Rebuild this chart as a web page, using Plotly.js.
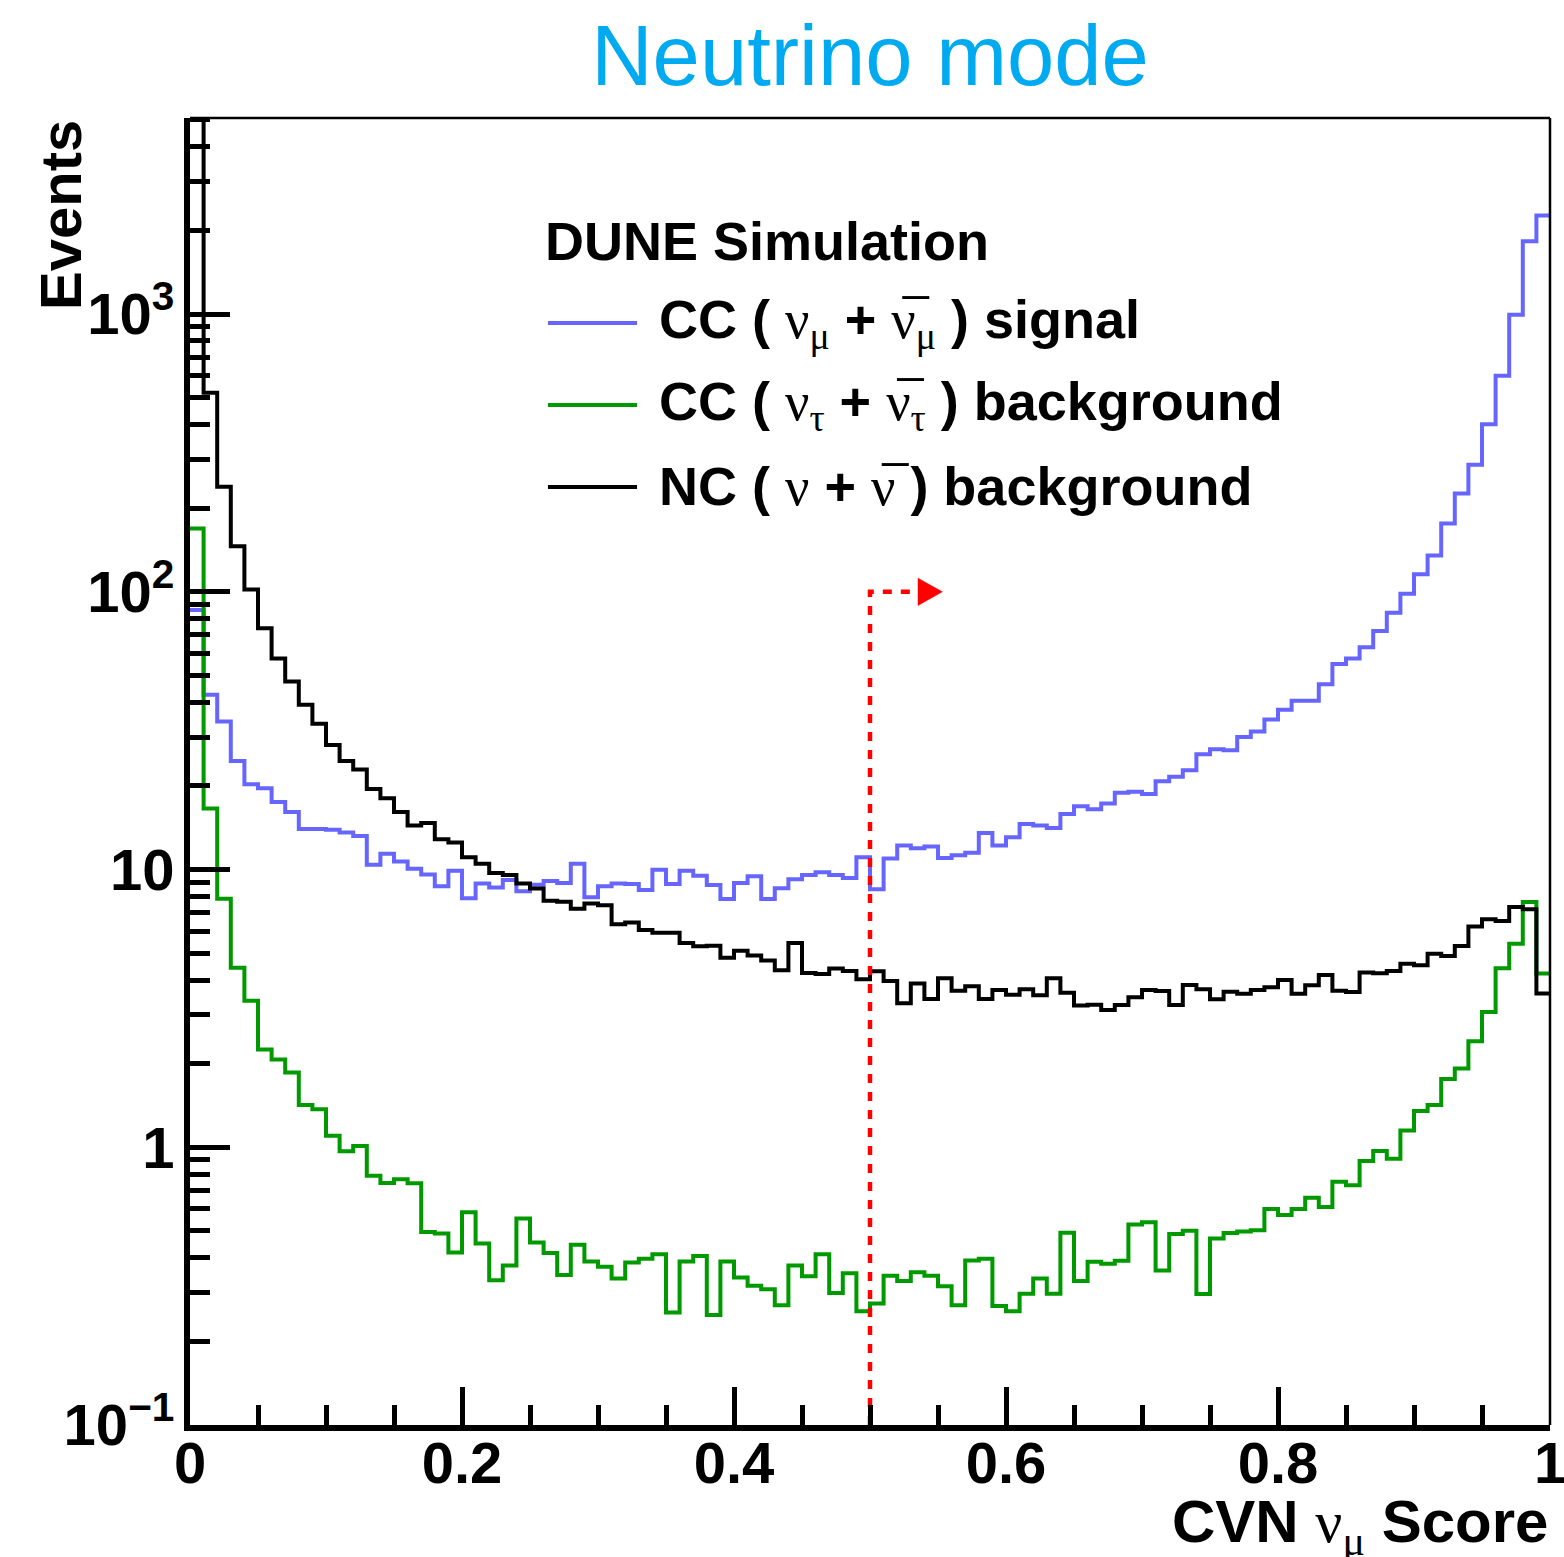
<!DOCTYPE html>
<html>
<head>
<meta charset="utf-8">
<script src="https://cdn.plot.ly/plotly-3.0.1.min.js"></script>
<style>
  html, body { margin: 0; padding: 0; background: #ffffff; }
  #chart { width: 1564px; height: 1557px; }
</style>
</head>
<body>
<div id="chart"></div>
<script>
// ---- Histogram binning (CVN numu score, 100 bins from 0 to 1) ----
const binLow = 0;
const binWidth = 0.01;
const nBins = 100;

// ---- Series values (events per bin) ----
const ccNumuSignal = [
  86, 42.6, 34.1, 24.6, 20.3, 19.6, 17.5, 16.1, 14.0, 14.0,
  13.9, 13.6, 13.2, 10.4, 11.4, 10.7, 10.07, 9.6, 8.7, 9.9,
  7.88, 8.9, 8.62, 9.17, 8.36, 8.82, 9.09, 8.95, 10.5, 7.95,
  8.7, 8.9, 8.87, 8.44, 9.99, 8.87, 9.9, 9.5, 8.8, 7.84,
  8.95, 9.45, 7.84, 8.57, 9.22, 9.56, 9.78, 9.56, 9.33, 11.08,
  8.5, 10.95, 12.2, 11.94, 12.1, 11.0, 11.25, 11.5, 13.55, 12.2,
  13.08, 14.6, 14.4, 14.1, 15.86, 16.9, 16.5, 17.3, 18.9, 19.05,
  18.7, 20.8, 21.6, 22.8, 26.0, 27.1, 26.9, 30.0, 31.4, 34.7,
  37.6, 40.5, 40.5, 46.5, 55, 57.5, 63.2, 72.2, 84.1, 98.4,
  115.7, 135, 176, 226, 287, 401, 600, 994, 1828, 2264
];
const ccNutauBkg = [
  169, 16.6, 7.85, 4.43, 3.37, 2.25, 2.07, 1.86, 1.42, 1.37,
  1.10, 0.967, 1.01, 0.79, 0.744, 0.767, 0.742, 0.495, 0.489, 0.418,
  0.584, 0.45, 0.332, 0.375, 0.554, 0.454, 0.416, 0.347, 0.446, 0.388,
  0.371, 0.337, 0.385, 0.397, 0.412, 0.254, 0.388, 0.406, 0.249, 0.388,
  0.34, 0.317, 0.308, 0.27, 0.375, 0.343, 0.412, 0.299, 0.352, 0.257,
  0.274, 0.345, 0.33, 0.355, 0.345, 0.316, 0.27, 0.391, 0.397, 0.268,
  0.257, 0.297, 0.337, 0.297, 0.492, 0.33, 0.387, 0.381, 0.39, 0.527,
  0.537, 0.36, 0.487, 0.50, 0.296, 0.469, 0.491, 0.497, 0.503, 0.60,
  0.57, 0.60, 0.658, 0.609, 0.752, 0.73, 0.893, 0.97, 0.91, 1.15,
  1.35, 1.42, 1.76, 1.92, 2.41, 3.07, 4.41, 5.41, 7.64, 4.22
];
const ncBkg = [
  9000, 521, 239, 146, 102, 74, 57.5, 47.5, 39.2, 33.5,
  28.1, 24.6, 22.9, 19.5, 18.05, 16.1, 14.4, 14.7, 12.85, 12.5,
  11.08, 10.5, 9.72, 9.56, 8.9, 8.54, 7.72, 7.65, 7.22, 7.54,
  7.43, 6.35, 6.45, 6.06, 5.92, 5.92, 5.44, 5.29, 5.32, 4.81,
  5.1, 4.9, 4.7, 4.34, 5.44, 4.24, 4.21, 4.4, 4.31, 4.03,
  4.3, 3.97, 3.30, 3.89, 3.42, 4.06, 3.66, 3.80, 3.42, 3.68,
  3.54, 3.71, 3.53, 4.06, 3.6, 3.24, 3.26, 3.12, 3.25, 3.47,
  3.68, 3.65, 3.25, 3.84, 3.71, 3.41, 3.63, 3.57, 3.68, 3.77,
  4.0, 3.57, 3.83, 4.17, 3.66, 3.62, 4.26, 4.23, 4.31, 4.58,
  4.52, 4.98, 4.88, 5.31, 6.23, 6.62, 6.53, 7.33, 7.19, 3.58
];

// ---- Selection cut (score > 0.5) ----
const cutValue = 0.5;
const cutMarkerLevel = 100;
const arrowBaseX = 0.5353;
const arrowTipX = 0.5532;
const arrowHalfHeightFactor = 1.12;

// ---- Axis ticks / labels ----
const xTickVals = [0, 0.2, 0.4, 0.6, 0.8, 1];
const xTickText = ['0', '0.2', '0.4', '0.6', '0.8', '1'];
const yTickVals = [0.1, 1, 10, 100, 1000];
const yTickText = ['10<sup>\u22121</sup>', '1', '10', '10<sup>2</sup>', '10<sup>3</sup>'];
const yRangeLog = [-1, 3.706];

// minor log ticks 2..9 per decade
const yMinorVals = [];
for (let e = -1; e <= 3; e++) {
  for (let m = 2; m <= 9; m++) {
    const v = m * Math.pow(10, e);
    if (Math.log10(v) <= yRangeLog[1]) yMinorVals.push(+v.toPrecision(3));
  }
}

const binEdges = [];
for (let i = 0; i <= nBins; i++) binEdges.push(+(binLow + i * binWidth).toFixed(4));

const SANS = 'Liberation Sans, Arial, Helvetica, sans-serif';
const SERIF = 'Liberation Serif, Times New Roman, serif';

const COL_SIG = '#6666ff';
const COL_TAU = '#009900';
const COL_NC = '#000000';
const COL_CUT = '#ff0000';
const HIST_W = 4;

function stepTrace(vals, color, name) {
  return {
    type: 'scatter',
    mode: 'lines',
    name: name,
    x: binEdges,
    y: vals.concat([vals[vals.length - 1]]),
    line: { shape: 'hv', color: color, width: HIST_W },
    showlegend: false,
    hoverinfo: 'x+y'
  };
}

const yBottom = Math.pow(10, yRangeLog[0]);
const traces = [
  stepTrace(ccNumuSignal, COL_SIG, 'CC numu signal'),
  stepTrace(ccNutauBkg, COL_TAU, 'CC nutau background'),
  stepTrace(ncBkg, COL_NC, 'NC background'),
  {
    type: 'scatter', mode: 'lines',
    x: [cutValue, cutValue, arrowBaseX],
    y: [yBottom, cutMarkerLevel, cutMarkerLevel],
    line: { color: COL_CUT, width: 4.5, dash: '9px,9px' },
    showlegend: false, hoverinfo: 'skip'
  },
  {
    type: 'scatter', mode: 'lines',
    x: [arrowBaseX, arrowBaseX, arrowTipX, arrowBaseX],
    y: [cutMarkerLevel * arrowHalfHeightFactor, cutMarkerLevel / arrowHalfHeightFactor, cutMarkerLevel, cutMarkerLevel * arrowHalfHeightFactor],
    fill: 'toself', fillcolor: COL_CUT,
    line: { color: COL_CUT, width: 0.5 },
    showlegend: false, hoverinfo: 'skip'
  }
];

function nu(sub, bar) {
  const sym = bar ? 'ν\u0305' : 'ν';
  return '<span style="font-family:' + SERIF + ';font-weight:normal">' + sym + '</span>' +
    (sub ? '<span style="font-family:' + SERIF + ';font-weight:normal"><sub>' + sub + '</sub></span>' : '');
}

const legendRows = [
  { color: COL_SIG, text: 'CC ( ' + nu('μ') + ' + ' + nu('μ', true) + ' ) signal' },
  { color: COL_TAU, text: 'CC ( ' + nu('τ') + ' + ' + nu('τ', true) + ' ) background' },
  { color: COL_NC,  text: 'NC ( ' + nu('') + ' + ' + nu('', true) + ' ) background' }
];
const legendRowY = [0.8432, 0.7804, 0.7177];
const legendLineX = [0.2632, 0.3287];
const legendTextX = 0.3434;

const shapes = [
  // thin top and right frame lines
  { type: 'line', xref: 'paper', yref: 'paper', x0: 0, x1: 1, y0: 1, y1: 1, line: { color: '#000', width: 2.5 } },
  { type: 'line', xref: 'paper', yref: 'paper', x0: 1, x1: 1, y0: 0, y1: 1, line: { color: '#000', width: 2.5 } }
];
const annotations = [
  {
    xref: 'paper', yref: 'paper', x: 0.2596, y: 0.9059, xanchor: 'left', yanchor: 'middle',
    text: 'DUNE Simulation', showarrow: false,
    font: { family: SANS, size: 54, color: '#000', weight: 'bold' }
  },
  {
    xref: 'paper', yref: 'paper', x: -0.0956, y: 1.0, xanchor: 'center', yanchor: 'top',
    text: 'Events', textangle: -90, showarrow: false,
    font: { family: SANS, size: 58, color: '#000', weight: 'bold' }
  },
  {
    xref: 'paper', yref: 'paper', x: 1.0, y: -0.0775, xanchor: 'right', yanchor: 'middle',
    text: 'CVN ' + nu('μ') + ' Score', showarrow: false,
    font: { family: SANS, size: 60, color: '#000', weight: 'bold' }
  }
];
legendRows.forEach((r, i) => {
  shapes.push({
    type: 'line', xref: 'paper', yref: 'paper',
    x0: legendLineX[0], x1: legendLineX[1], y0: legendRowY[i], y1: legendRowY[i],
    line: { color: r.color, width: HIST_W }
  });
  annotations.push({
    xref: 'paper', yref: 'paper', x: legendTextX, y: legendRowY[i],
    xanchor: 'left', yanchor: 'middle', text: r.text, showarrow: false,
    font: { family: SANS, size: 54, color: '#000', weight: 'bold' }
  });
});

const layout = {
  width: 1564, height: 1557,
  margin: { l: 190, r: 14, t: 118, b: 132 },
  paper_bgcolor: '#ffffff', plot_bgcolor: '#ffffff',
  showlegend: false,
  title: {
    text: 'Neutrino mode',
    font: { family: SANS, size: 85, color: '#00aaf0' },
    xref: 'paper', x: 0.5, xanchor: 'center',
    yref: 'container', y: 0.9647, yanchor: 'middle'
  },
  xaxis: {
    range: [0, 1], fixedrange: true,
    tickmode: 'array', tickvals: xTickVals, ticktext: xTickText,
    ticks: 'inside', ticklen: 38, tickwidth: 5, tickcolor: '#000',
    showline: true, linewidth: 6, linecolor: '#000',
    zeroline: false, showgrid: false,
    minor: { tickmode: 'linear', tick0: 0, dtick: 0.05, ticks: 'inside', ticklen: 20, tickwidth: 5, tickcolor: '#000', showgrid: false },
    tickfont: { family: SANS, size: 58, color: '#000', weight: 'bold' },
    ticklabelstandoff: -18,
    ticklabeloverflow: 'allow'
  },
  yaxis: {
    type: 'log', range: yRangeLog, fixedrange: true,
    tickmode: 'array', tickvals: yTickVals, ticktext: yTickText,
    ticks: 'inside', ticklen: 40, tickwidth: 5, tickcolor: '#000',
    showline: true, linewidth: 6, linecolor: '#000',
    zeroline: false, showgrid: false,
    minor: { tickmode: 'array', tickvals: yMinorVals, ticks: 'inside', ticklen: 20, tickwidth: 5, tickcolor: '#000', showgrid: false },
    tickfont: { family: SANS, size: 58, color: '#000', weight: 'bold' },
    ticklabelstandoff: -2,
    ticklabeloverflow: 'allow'
  },
  shapes: shapes,
  annotations: annotations
};

Plotly.newPlot('chart', traces, layout, { staticPlot: true, displayModeBar: false });
</script>
</body>
</html>
